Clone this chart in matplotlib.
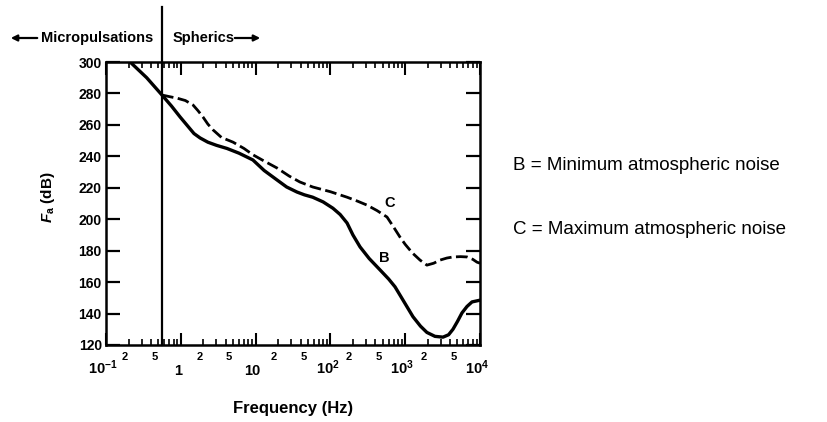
import matplotlib
matplotlib.use('Agg')
import matplotlib.pyplot as plt
import matplotlib.transforms as mtransforms

plt.rcParams['font.family'] = 'Liberation Sans'
plt.rcParams['mathtext.fontset'] = 'custom'
plt.rcParams['mathtext.rm'] = 'Liberation Sans:bold'
plt.rcParams['mathtext.it'] = 'Liberation Sans:bold:italic'
plt.rcParams['mathtext.bf'] = 'Liberation Sans:bold'

# curve B: minimum atmospheric noise (frequency Hz, dB)
b_freq = [0.21, 0.35, 0.56, 0.75, 0.98, 1.25, 1.5, 1.81, 2.3, 3, 4.15, 6, 9.2, 13,
          19.3, 26, 35.7, 45, 58, 80, 108, 135, 167, 200, 249, 330, 460, 600, 731,
          950, 1270, 1600, 1950, 2500, 3200, 3800, 4350, 5000, 5740, 6700, 7820, 10000]
b_db = [300, 290, 279, 272, 265, 259, 254.5, 251.7, 249, 247, 245, 242, 237.7, 231,
        225, 220.5, 217.3, 215.5, 214, 211, 207, 203, 197.6, 190, 182.4, 175, 167.8, 162, 157,
        148, 138, 132, 128, 125.5, 125, 126.5, 130, 135, 140.4, 144.5, 147.4, 148.5]

# curve C: maximum atmospheric noise
c_freq = [0.56, 0.7, 0.89, 1.15, 1.46, 1.7, 1.98, 2.3, 2.7, 3.5, 5.0, 7, 9.2, 13,
          19.3, 28, 39, 58, 100, 167, 230, 308, 420, 571, 700, 850, 1000, 1250, 1580,
          1950, 2400, 2920, 3600, 4350, 5500, 6700, 8000, 9100, 10000]
c_db = [279, 278, 277, 275.5, 272.6, 269, 265, 260.5, 256.8, 252, 249, 245, 241, 237,
        232.6, 227.5, 223.7, 220.5, 217.5, 214, 211.5, 209, 205.5, 201.4, 195, 188.7, 184,
        178.5, 174, 170.8, 172, 174, 175.3, 176, 176.2, 176, 174.5, 172.7, 172]

y_ticks = [120, 140, 160, 180, 200, 220, 240, 260, 280, 300]
decade_pos = [0.1, 1, 10, 100, 1000, 10000]
decade_labels = [r'$10^{-1}$', '1', '10', r'$10^{2}$', r'$10^{3}$', r'$10^{4}$']
small_pos = [0.2, 0.5, 2, 5, 20, 50, 200, 500, 2000, 5000]
small_labels = ['2', '5'] * 5
boundary_freq = 0.56

fig = plt.figure(figsize=(8.27, 4.22), dpi=100)
ax = fig.add_axes([106/827, 1-345/422, 374/827, 283/422])

ax.plot(b_freq, b_db, color='black', lw=2.4, solid_joinstyle='round', solid_capstyle='round')
ax.plot(c_freq, c_db, color='black', lw=2.0, dashes=(4.2, 1.6))
ax.set_xscale('log')
ax.set_xlim(0.1, 10000)
ax.set_ylim(120, 300)

for s in ax.spines.values():
    s.set_linewidth(1.8)

ax.set_yticks(y_ticks)
ax.set_yticklabels([str(v) for v in y_ticks], fontsize=10, fontweight='bold')
ax.tick_params(axis='y', direction='in', length=10, width=1.6, right=True, pad=3)
ax.set_xticks(decade_pos)
ax.set_xticklabels([])
minors = [m * d for d in [0.1, 1, 10, 100, 1000] for m in range(2, 10)]
ax.set_xticks(minors, minor=True)
ax.tick_params(axis='x', which='major', direction='in', length=9, width=1.5, top=True)
ax.tick_params(axis='x', which='minor', direction='in', length=4.5, width=1.2, top=True)

trans = mtransforms.blended_transform_factory(ax.transData, ax.transAxes)
for p, lab in zip(decade_pos, decade_labels):
    dy = -26 if lab in ('1', '10') else -23
    ax.annotate(lab, (p, 0), xycoords=trans, xytext=(-3, dy), textcoords='offset pixels',
                ha='center', va='center', fontsize=10.5, fontweight='bold')
for p, lab in zip(small_pos, small_labels):
    ax.annotate(lab, (p, 0), xycoords=trans, xytext=(-4, -12), textcoords='offset pixels',
                ha='center', va='center', fontsize=8, fontweight='bold')

ax.text(520, 175.3, 'B', fontsize=10.5, fontweight='bold', ha='center', va='center')
ax.text(620, 210, 'C', fontsize=10.5, fontweight='bold', ha='center', va='center')

ax.axvline(boundary_freq, ymin=0, ymax=(345-7)/283, color='black', lw=1.6, clip_on=False)

fig.text(48/827, 1-197/422, r'$\mathit{F}_{\mathrm{a}}$ (dB)', rotation=90, ha='center', va='center',
         fontsize=11, fontweight='bold')
fig.text(293/827, 1-408/422, 'Frequency (Hz)', ha='center', va='center', fontsize=12, fontweight='bold')

fig.text(153/827, 1-38/422, 'Micropulsations', ha='right', va='center', fontsize=10.5, fontweight='bold')
fig.text(173/827, 1-38/422, 'Spherics', ha='left', va='center', fontsize=10.5, fontweight='bold')
ax.annotate('', xy=(8, 422-38), xytext=(40, 422-38), xycoords='figure pixels',
            arrowprops=dict(arrowstyle='-|>', color='black', lw=1.6, mutation_scale=9))
ax.annotate('', xy=(263, 422-38), xytext=(232, 422-38), xycoords='figure pixels',
            arrowprops=dict(arrowstyle='-|>', color='black', lw=1.6, mutation_scale=9))

fig.text(513/827, 1-165/422, 'B = Minimum atmospheric noise', ha='left', va='center', fontsize=13.5)
fig.text(513/827, 1-230/422, 'C = Maximum atmospheric noise', ha='left', va='center', fontsize=13.5)

fig.savefig('out.png', dpi=100)
